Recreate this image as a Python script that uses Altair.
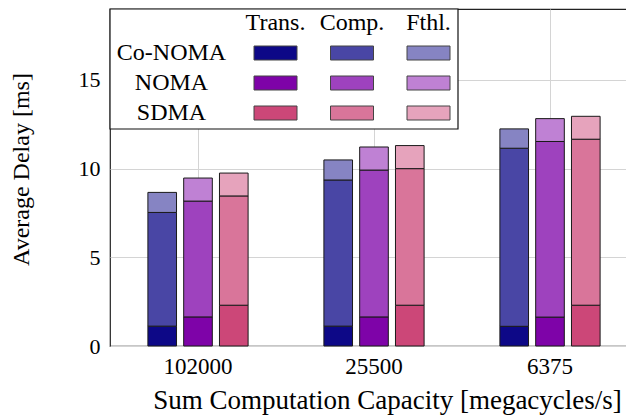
import altair as alt
import pandas as pd

capacities = ["102000", "25500", "6375"]
schemes = ["Co-NOMA", "NOMA", "SDMA"]
components = ["Trans.", "Comp.", "Fthl."]

# segment heights (ms), per capacity [102000, 25500, 6375]
trans = {"Co-NOMA": [1.12, 1.12, 1.11], "NOMA": [1.64, 1.64, 1.63], "SDMA": [2.30, 2.30, 2.30]}
comp = {"Co-NOMA": [6.41, 8.24, 10.04], "NOMA": [6.53, 8.28, 9.90], "SDMA": [6.16, 7.70, 9.36]}
fthl = {"Co-NOMA": [1.13, 1.13, 1.09], "NOMA": [1.30, 1.30, 1.29], "SDMA": [1.29, 1.30, 1.29]}

palette = {
    "Co-NOMA": ["#0d0887", "#4946a5", "#8684c3"],
    "NOMA": ["#7e03a8", "#9e42be", "#bf81d4"],
    "SDMA": ["#cc4778", "#d9759a", "#e6a3bc"],
}

segs = {"Trans.": trans, "Comp.": comp, "Fthl.": fthl}
rows = []
for i, cap in enumerate(capacities):
    for s in schemes:
        start = 0.0
        for c in components:
            v = segs[c][s][i]
            rows.append({"capacity": cap, "scheme": s, "component": c,
                         "key": s + "|" + c, "start": start, "end": start + v})
            start += v
df = pd.DataFrame(rows)

keys = [s + "|" + c for s in schemes for c in components]
hexes = [palette[s][j] for s in schemes for j in range(3)]
color_scale = alt.Scale(domain=keys, range=hexes)

FONT = "Liberation Serif"

bars = alt.Chart(df).mark_bar(stroke="#1a1a1a", strokeWidth=1).encode(
    x=alt.X("capacity:N", sort=capacities,
            scale=alt.Scale(paddingInner=0.39, paddingOuter=0.195),
            axis=alt.Axis(title="Sum Computation Capacity [megacycles/s]", labelAngle=0,
                          grid=True, gridColor="#d4d4d4", tickBand="center",
                          ticks=False, domain=False, labelPadding=9,
                          labelFont=FONT, labelFontSize=23, labelColor="#000",
                          titleFont=FONT, titleFontSize=27, titleFontWeight="normal",
                          titleColor="#000",
                          titleX=277, titleY=62, titleBaseline="alphabetic", titleAlign="center")),
    xOffset=alt.XOffset("scheme:N", sort=schemes,
                        scale=alt.Scale(paddingInner=0.2, paddingOuter=0.1)),
    y=alt.Y("start:Q", scale=alt.Scale(domain=[0, 19], nice=False),
            axis=alt.Axis(title="Average Delay [ms]", values=[0, 5, 10, 15], grid=True,
                          gridColor="#d4d4d4", ticks=False, domain=False,
                          labelFont=FONT, labelFontSize=22, labelPadding=10, labelColor="#000",
                          titleFont=FONT, titleFontSize=24, titleFontWeight="normal",
                          titleColor="#000",
                          titleX=-89, titleY=160, titleAngle=270,
                          titleBaseline="middle", titleAlign="center")),
    y2="end:Q",
    color=alt.Color("key:N", scale=color_scale, legend=None),
)

# legend table
leg_rows = [{"scheme": s, "component": c, "key": s + "|" + c} for s in schemes for c in components]
leg_df = pd.DataFrame(leg_rows)
hdr_df = pd.DataFrame({"component": components})
lbl_df = pd.DataFrame({"scheme": schemes})

col_scale = alt.Scale(type="point", domain=components, range=[165.5, 318.5], padding=0)
row_scale = alt.Scale(type="point", domain=schemes, range=[44, 104], padding=0)

box = alt.Chart(pd.DataFrame({"a": [0]})).mark_rect(
    fill="white", stroke="#111", strokeWidth=1.2
).encode(x=alt.value(0), x2=alt.value(348), y=alt.value(0), y2=alt.value(120))

swatches = alt.Chart(leg_df).mark_rect(width=43, height=14, stroke="#444", strokeWidth=1).encode(
    x=alt.X("component:N", scale=col_scale, axis=None),
    y=alt.Y("scheme:N", scale=row_scale, axis=None),
    color=alt.Color("key:N", scale=color_scale, legend=None),
)

headers = alt.Chart(hdr_df).mark_text(font=FONT, fontSize=24, baseline="middle",
                                      align="center", color="#000").encode(
    x=alt.X("component:N", scale=col_scale, axis=None),
    y=alt.value(14),
    text="component:N",
)

labels = alt.Chart(lbl_df).mark_text(font=FONT, fontSize=24, baseline="middle",
                                     align="center", color="#000").encode(
    x=alt.value(61.5),
    y=alt.Y("scheme:N", scale=row_scale, axis=None),
    text="scheme:N",
)

chart = alt.layer(bars, box, swatches, headers, labels).resolve_scale(
    x="independent", y="independent", color="independent"
).properties(
    width=528, height=337,
    autosize=alt.AutoSizeParams(type="none"),
    padding={"left": 102, "top": 1, "right": -12, "bottom": 70},
).configure(font=FONT).configure_view(stroke="#222", strokeWidth=1.2)

chart.save("out.html", embed_options={"renderer": "svg", "actions": False})
